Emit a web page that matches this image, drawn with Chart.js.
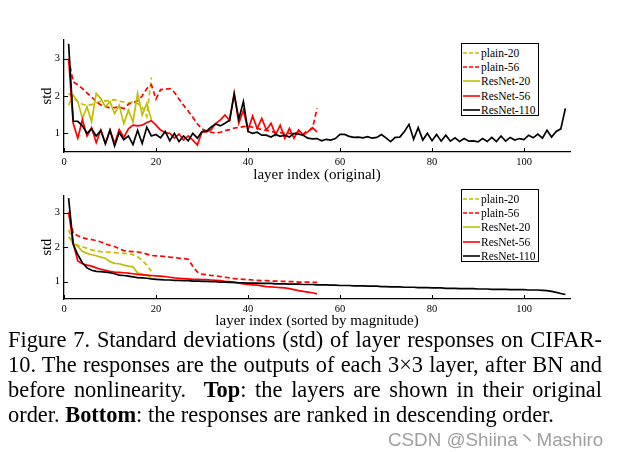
<!DOCTYPE html>
<html><head><meta charset="utf-8">
<script src="https://cdn.jsdelivr.net/npm/chart.js@4.4.0/dist/chart.umd.min.js"></script>
<style>
html,body{margin:0;padding:0;background:#fff;width:618px;height:452px;overflow:hidden;position:relative;}
canvas{position:absolute;left:0;}
#c1{top:0}
#c2{top:185px}
.legend{position:absolute;left:461px;width:78px;height:73px;border:1.3px solid #000;background:#fff;font-family:"Liberation Serif",serif;font-size:11.5px;color:#000;padding-top:2px;box-sizing:border-box}
.legend .row{height:14.2px;display:flex;align-items:center;white-space:nowrap}
.legend svg{margin-left:1px;margin-right:1px;flex:none}
#caption{position:absolute;left:8px;top:326.5px;width:594px;font-family:"Liberation Serif",serif;font-size:22.4px;line-height:25px;color:#000}
#caption div{text-align:justify;text-align-last:justify;}
#caption div.last{text-align:left;text-align-last:left}
#wm{position:absolute;left:388px;top:424px;font-family:"Liberation Sans","Noto Sans CJK SC",sans-serif;font-size:18.8px;color:#a0a0a0;white-space:nowrap}
</style>
</head><body>
<canvas id="c1" width="618" height="185"></canvas>
<canvas id="c2" width="618" height="145"></canvas>
<div class="legend" id="lg1" style="top:43px"></div>
<div class="legend" id="lg2" style="top:189px"></div>
<div id="caption">
<div>Figure 7. Standard deviations (std) of layer responses on CIFAR-</div>
<div>10. The responses are the outputs of each 3×3 layer, after BN and</div>
<div>before nonlinearity. &nbsp;<b>Top</b>: the layers are shown in their original</div>
<div class="last">order. <b>Bottom</b>: the responses are ranked in descending order.</div>
</div>
<div id="wm">CSDN @Shiina丶Mashiro</div>
<script>
// ---------- data ----------
const seriesNames = ["plain-20", "plain-56", "ResNet-20", "ResNet-56", "ResNet-110"];
const layerTicks = [0, 20, 40, 60, 80, 100];
const stdTicks = [1, 2, 3];

// Top: layers in original order
const topPlain20 = [2.07,1.95,1.85,1.78,1.75,1.77,1.82,1.86,1.87,1.88,
                    1.90,1.86,1.84,1.82,1.84,1.80,1.70,1.45,2.50];
const topPlain56 = [3.00,2.38,2.30,2.20,2.08,1.98,1.85,1.76,1.72,1.68,
                    1.69,1.71,1.66,1.78,1.82,1.87,2.00,2.20,2.30,1.92,
                    2.17,2.18,2.20,2.10,1.92,1.75,1.60,1.43,1.25,1.12,
                    1.06,1.03,1.00,1.03,1.07,1.10,1.14,1.16,1.18,1.20,
                    1.16,1.13,1.10,1.08,1.05,1.03,1.02,1.00,1.00,0.98,
                    1.05,0.98,1.08,1.12,1.67];
const topRes20 = [1.75,2.03,1.85,1.40,1.71,1.31,2.07,1.93,1.71,1.85,
                  1.53,1.75,1.26,1.62,1.31,2.07,1.49,1.80,1.36];
const topRes56 = [3.00,1.27,0.87,1.37,0.93,1.15,0.75,1.09,0.73,1.09,
                  0.73,1.10,0.89,1.12,1.22,1.20,1.22,1.29,1.34,1.22,
                  1.09,1.02,1.00,0.87,0.98,0.82,0.93,0.82,0.69,1.04,
                  1.04,1.10,1.27,1.36,1.49,1.34,2.07,1.27,1.62,1.09,
                  1.46,1.13,1.40,1.09,1.27,0.96,1.22,0.87,1.13,0.87,
                  1.09,0.96,1.04,1.15,1.04];
const topRes110 = [3.40,1.33,1.32,1.20,1.00,1.12,0.93,1.08,0.72,1.08,
                   0.66,1.02,0.83,0.93,0.70,1.08,0.73,1.16,0.93,0.97,
                   0.88,1.05,0.80,1.00,0.78,0.93,0.80,1.00,0.87,1.05,
                   1.06,1.17,1.25,1.20,1.27,1.35,2.05,1.38,1.85,1.05,
                   1.00,1.03,0.95,0.95,0.90,0.97,0.92,0.95,0.90,1.00,
                   0.98,0.95,0.87,0.85,0.86,0.80,0.84,0.82,0.86,0.97,
                   0.97,0.92,0.89,0.90,0.88,0.91,0.87,0.89,0.97,0.88,
                   0.78,0.89,0.90,1.05,1.24,0.84,1.15,0.82,1.00,0.80,
                   0.97,0.79,0.95,0.79,0.88,0.78,0.86,0.79,0.80,0.77,
                   0.86,0.78,0.89,0.78,0.93,0.79,0.89,0.82,0.86,0.83,
                   0.95,0.88,0.98,0.87,1.08,0.90,1.05,1.12,1.67];

// Bottom: sorted by magnitude
const botPlain20 = [2.50,2.12,2.05,2.01,1.97,1.92,1.89,1.87,1.86,1.85,
                    1.84,1.83,1.82,1.81,1.78,1.72,1.62,1.48,1.30];
const botPlain56 = [3.00,2.40,2.33,2.27,2.24,2.22,2.19,2.15,2.10,2.05,
                    2.02,1.95,1.90,1.88,1.87,1.86,1.84,1.80,1.76,1.75,
                    1.74,1.73,1.71,1.70,1.68,1.67,1.65,1.45,1.28,1.22,
                    1.20,1.18,1.17,1.15,1.13,1.11,1.09,1.08,1.07,1.06,
                    1.05,1.04,1.03,1.03,1.02,1.02,1.01,1.01,1.00,1.00,
                    0.99,0.99,0.99,0.98,0.98];
const botRes20 = [2.30,2.11,2.02,1.88,1.82,1.78,1.75,1.71,1.68,1.58,
                  1.53,1.52,1.48,1.45,1.43,1.25,1.22,1.18,1.14];
const botRes56 = [3.02,2.10,1.60,1.52,1.48,1.45,1.40,1.36,1.33,1.30,
                  1.28,1.27,1.26,1.25,1.23,1.21,1.20,1.19,1.18,1.17,
                  1.16,1.15,1.13,1.11,1.10,1.09,1.08,1.07,1.07,1.06,
                  1.06,1.05,1.04,1.03,1.01,1.00,0.98,0.96,0.94,0.92,
                  0.91,0.90,0.88,0.86,0.85,0.84,0.83,0.82,0.80,0.77,
                  0.74,0.72,0.70,0.68,0.65];
const botRes110 = [3.42,2.08,1.78,1.55,1.40,1.33,1.30,1.29,1.28,1.26,
                   1.23,1.19,1.18,1.16,1.14,1.12,1.11,1.10,1.08,1.07,
                   1.06,1.05,1.05,1.04,1.04,1.03,1.03,1.02,1.02,1.01,
                   1.01,1.00,1.00,0.99,0.99,0.98,0.98,0.97,0.97,0.96,
                   0.96,0.96,0.95,0.95,0.95,0.94,0.94,0.94,0.93,0.93,
                   0.93,0.92,0.92,0.92,0.91,0.91,0.91,0.90,0.90,0.89,
                   0.89,0.89,0.88,0.88,0.88,0.87,0.87,0.87,0.86,0.86,
                   0.85,0.85,0.85,0.84,0.84,0.84,0.83,0.83,0.83,0.82,
                   0.82,0.82,0.81,0.81,0.81,0.80,0.80,0.80,0.80,0.79,
                   0.79,0.79,0.78,0.78,0.78,0.78,0.77,0.77,0.77,0.77,
                   0.76,0.76,0.76,0.75,0.74,0.72,0.69,0.66,0.63];

// ---------- styles ----------
const OLIVE = '#bfbf00', RED = '#ff0000', BLACK = '#000000';
const seriesStyles = [
  {color: OLIVE, dash: [5, 3]},
  {color: RED,   dash: [5, 3]},
  {color: OLIVE, dash: []},
  {color: RED,   dash: []},
  {color: BLACK, dash: []}
];
const FONT = 'Liberation Serif';

const inwardTicks = {
  id: 'inwardTicks',
  afterDraw(chart) {
    const {ctx, chartArea: a, scales: {x, y}} = chart;
    ctx.save();
    ctx.strokeStyle = '#000';
    ctx.lineWidth = 1;
    ctx.beginPath();
    x.ticks.forEach(t => {
      const px = Math.round(x.getPixelForValue(t.value)) + 0.5;
      ctx.moveTo(px, a.bottom); ctx.lineTo(px, a.bottom - 4);
    });
    y.ticks.forEach(t => {
      const py = Math.round(y.getPixelForValue(t.value)) + 0.5;
      ctx.moveTo(a.left, py); ctx.lineTo(a.left + 4, py);
    });
    ctx.stroke();
    ctx.restore();
  }
};

function makeChart(id, seriesList, xTitle, padTop, xAxisH, titlePadB) {
  const datasets = seriesList.map((vals, i) => ({
    label: seriesNames[i],
    data: vals.map((v, k) => ({x: k + 1, y: v})),
    borderColor: seriesStyles[i].color,
    borderDash: seriesStyles[i].dash,
    borderWidth: 1.7,
    pointRadius: 0,
    tension: 0,
    fill: false,
    order: seriesList.length - i
  }));
  return new Chart(document.getElementById(id), {
    type: 'line',
    data: {datasets},
    plugins: [inwardTicks],
    options: {
      responsive: false, animation: false, devicePixelRatio: 1,
      layout: {padding: {top: padTop, right: 48, left: 0, bottom: 0}},
      plugins: {legend: {display: false}, tooltip: {enabled: false}},
      scales: {
        x: {
          type: 'linear', min: 0, max: 110,
          grid: {display: false, drawTicks: false},
          border: {display: true, color: '#000', width: 1.3},
          afterBuildTicks: s => { s.ticks = layerTicks.map(v => ({value: v})); },
          afterFit: s => { s.height = xAxisH; },
          ticks: {color: '#000', font: {family: FONT, size: 10.5}, padding: 4, maxRotation: 0, autoSkip: false},
          title: {display: true, text: xTitle, color: '#000', font: {family: FONT, size: 15}, padding: {top: 0, bottom: titlePadB}}
        },
        y: {
          type: 'linear', min: 0.5, max: 3.5,
          grid: {display: false, drawTicks: false},
          border: {display: true, color: '#000', width: 1.3},
          afterBuildTicks: s => { s.ticks = stdTicks.map(v => ({value: v})); },
          afterFit: s => { s.width = 64; },
          ticks: {color: '#000', font: {family: FONT, size: 10.5}, padding: 4},
          title: {display: true, text: 'std', color: '#000', font: {family: FONT, size: 14.5}, padding: {top: 38.3, bottom: 0}}
        }
      }
    }
  });
}

makeChart('c1', [topPlain20, topPlain56, topRes20, topRes56, topRes110], 'layer index (original)', 40, 33, 1);
makeChart('c2', [botPlain20, botPlain56, botRes20, botRes56, botRes110], 'layer index (sorted by magnitude)', 2, 31, 0);

function buildLegend(id) {
  const el = document.getElementById(id);
  seriesNames.forEach((name, i) => {
    const st = seriesStyles[i];
    const row = document.createElement('div');
    row.className = 'row';
    const dash = st.dash.length ? ' stroke-dasharray="4 2"' : '';
    row.innerHTML = '<svg width="17" height="4"><line x1="0" y1="2" x2="17" y2="2" stroke="' + st.color +
      '" stroke-width="1.6"' + dash + '/></svg><span>' + name + '</span>';
    el.appendChild(row);
  });
}
buildLegend('lg1');
buildLegend('lg2');
</script>
</body></html>
